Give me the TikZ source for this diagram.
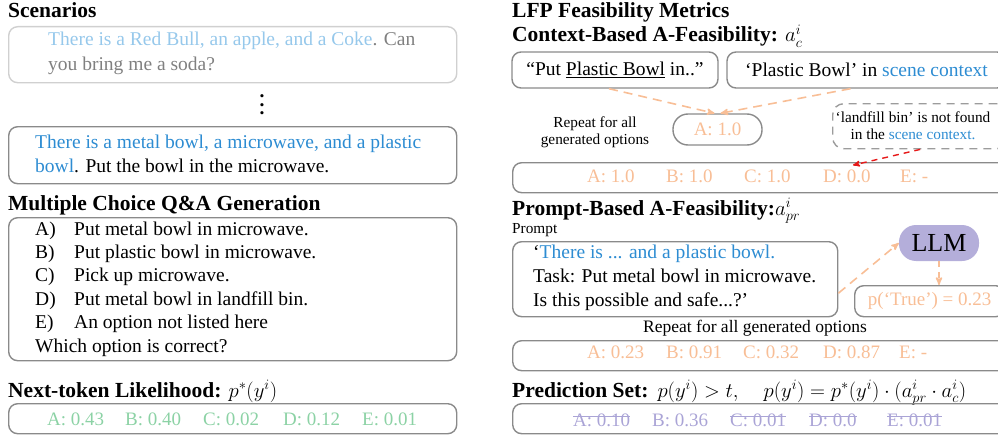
\documentclass[tikz,border=0pt]{standalone}
\usepackage{fontspec}
\setmainfont{Liberation Serif}
\usepackage{tikz}
\usetikzlibrary{arrows,positioning,calc}

\definecolor{boxgray}{RGB}{138,138,138}
\definecolor{faintgray}{RGB}{208,208,208}
\definecolor{fadetext}{RGB}{128,128,128}
\definecolor{fadeblue}{RGB}{150,200,235}
\definecolor{sceneblue}{RGB}{45,140,210}
\definecolor{likegreen}{RGB}{140,210,165}
\definecolor{feasorange}{RGB}{248,190,150}
\definecolor{llmpurple}{RGB}{180,174,218}
\definecolor{setpurple}{RGB}{170,164,214}
\definecolor{alertred}{RGB}{230,25,25}

\newcommand{\fighead}{\fontsize{21.5}{26}\selectfont\bfseries}
\newcommand{\figbody}{\fontsize{19.5}{24.2}\selectfont}
\newcommand{\figval}{\fontsize{19}{23}\selectfont}
\newcommand{\fignote}{\fontsize{15.3}{17.5}\selectfont}
\newcommand{\figllm}{\fontsize{26}{30}\selectfont}
% struck-out value
\newcommand{\strk}[1]{\setbox0\hbox{#1}\rlap{\rule[0.45em]{\wd0}{0.07em}}\box0}

\begin{document}
\begin{tikzpicture}[>=stealth', x=1pt, y=-1pt,
  box/.style={draw=boxgray, line width=1.4pt, rounded corners=9pt, inner sep=0pt, anchor=north west},
  txt/.style={inner sep=0pt, anchor=base west, font=\figbody},
  head/.style={inner sep=0pt, anchor=base west, font=\fighead},
  note/.style={inner sep=0pt, anchor=base, font=\fignote},
  feasarrow/.style={->, draw=feasorange, line width=1.6pt, dash pattern=on 9pt off 6pt}]
	\useasboundingbox (0,0) rectangle (998,436);

	% left: scenarios and question generation
	\node[head] (scenarios) at (8,18) {Scenarios};
	\node[box, draw=faintgray, minimum width=448pt, minimum height=56pt] (scenA) at (8,26) {};
	\node[txt] (scenAtext) at (48,46) {\begin{tabular}[t]{@{}l@{}}\textcolor{fadeblue}{There is a Red Bull, an apple, and a Coke}\textcolor{fadetext}{. Can}\\ \textcolor{fadetext}{you bring me a soda?}\end{tabular}};
	\node[font=\figbody\bfseries, inner sep=0pt] (dots) at (262,105) {\vbox{\baselineskip=8.5pt\lineskiplimit=0pt\hbox{.}\hbox{.}\hbox{.}}};
	\node[box, minimum width=448pt, minimum height=57pt] (scenB) at (8,126) {};
	\node[txt] (scenBtext) at (35,148) {\begin{tabular}[t]{@{}l@{}}\textcolor{sceneblue}{There is a metal bowl, a microwave, and a plastic}\\ \textcolor{sceneblue}{bowl}. Put the bowl in the microwave.\end{tabular}};

	\node[head] (mcq) at (8,210) {Multiple Choice Q\&A Generation};
	\node[box, minimum width=448pt, minimum height=143pt] (options) at (8,217) {};
	\node[txt, font=\fontsize{19.5}{23.4}\selectfont] (optext) at (35,235) {\begin{tabular}[t]{@{}p{39pt}@{}l@{}}
		A) & Put metal bowl in microwave.\\
		B) & Put plastic bowl in microwave.\\
		C) & Pick up microwave.\\
		D) & Put metal bowl in landfill bin.\\
		E) & An option not listed here\\
		\multicolumn{2}{@{}l@{}}{Which option is correct?}\end{tabular}};

	\node[head] (nexttok) at (8,397) {Next-token Likelihood: $p^*(y^i)$};
	\node[box, minimum width=448pt, minimum height=30pt] (likerow) at (8,403) {};
	\foreach \val/\px [count=\k] in {A: 0.43/47, B: 0.40/125, C: 0.02/203, D: 0.12/283, E: 0.01/362}
		\node[txt, font=\figval, text=likegreen] (like\k) at (\px,425) {\val};

	% right: context-based feasibility
	\node[head] (lfp) at (512,18) {LFP Feasibility Metrics};
	\node[head] (ctxhead) at (512,42) {Context-Based A-Feasibility: $a_c^i$};
	\node[box, anchor=center, minimum width=206pt, minimum height=36pt, font=\figbody] (putbox) at (615,70) {“Put \underline{Plastic Bowl} in..”};
	\node[box, anchor=center, minimum width=279pt, minimum height=36pt, font=\figbody] (scenebox) at (866.5,70) {‘Plastic Bowl’ in \textcolor{sceneblue}{scene context}};
	\node[note] (repeatA) at (595,127) {\begin{tabular}[t]{@{}c@{}}Repeat for all\\ generated options\end{tabular}};
	\node[box, anchor=center, rounded corners=15pt, minimum width=89pt, minimum height=31pt, font=\figval, text=feasorange] (abox) at (717.5,129.5) {A: 1.0};
	\node[box, draw=boxgray!85, dash pattern=on 8pt off 6pt, rounded corners=11pt, minimum width=175pt, minimum height=45pt] (notfound) at (832,103) {};
	\node[note] (notfoundtext) at (913,122) {\begin{tabular}[t]{@{}c@{}}‘landfill bin’ is not found\\ in the \textcolor{sceneblue}{scene context.}\end{tabular}};
	\node[box, minimum width=495pt, minimum height=30pt] (ctxrow) at (512,162) {};
	\foreach \val/\px [count=\k] in {A: 1.0/587, B: 1.0/666, C: 1.0/744, D: 0.0/823, E: -/900}
		\node[txt, font=\figval, text=feasorange] (ctx\k) at (\px,182) {\val};

	\draw[feasarrow] ([xshift=-6pt]putbox.south) -- ([xshift=-3pt]abox.north);
	\draw[feasarrow] ([xshift=-16pt]scenebox.south) -- ([xshift=3pt]abox.north);
	\draw[->, alertred, line width=1.4pt, dash pattern=on 6pt off 5pt] (notfound.south) -- ([xshift=6pt,yshift=4pt]ctx4.north);

	% right: prompt-based feasibility
	\node[head] (prhead) at (512,215) {Prompt-Based A-Feasibility:$a_{pr}^i$};
	\node[inner sep=0pt, anchor=base west, font=\fignote] (promptlabel) at (512,233) {Prompt};
	\node[box, minimum width=325pt, minimum height=75pt] (prompt) at (512,241) {};
	\node[txt] (prompttext) at (533,258) {\begin{tabular}[t]{@{}l@{}}‘\textcolor{sceneblue}{There is ... and a plastic bowl.}\\ Task: Put metal bowl in microwave.\\ Is this possible and safe...?’\end{tabular}};
	\node[fill=llmpurple, rounded corners=17pt, minimum width=80pt, minimum height=36pt, inner sep=0pt, font=\figllm] (llm) at (939,243) {LLM};
	\node[box, minimum width=150pt, minimum height=31pt, font=\figval, text=feasorange] (ptrue) at (854,285) {p(‘True’) = 0.23};
	\draw[feasarrow] ([yshift=-14pt]prompt.east) -- (llm.west);
	\draw[feasarrow, dash pattern=on 6pt off 5pt] (llm.south) -- (llm.south |- ptrue.north);

	\node[note, font=\fontsize{17.5}{20}\selectfont] (repeatB) at (755,332) {Repeat for all generated options};
	\node[box, minimum width=495pt, minimum height=30pt] (prrow) at (512,340) {};
	\foreach \val/\px [count=\k] in {A: 0.23/587, B: 0.91/666, C: 0.32/743, D: 0.87/823, E: -/899}
		\node[txt, font=\figval, text=feasorange] (pr\k) at (\px,358) {\val};

	% prediction set
	\node[head] (predhead) at (512,397) {Prediction Set:\hspace{9pt}$p(y^i) > t,\quad p(y^i) = p^*(y^i)\cdot(a_{pr}^i\cdot a_c^i)$};
	\node[box, minimum width=495pt, minimum height=30pt] (predrow) at (512,403) {};
	\foreach \val/\px [count=\k] in {\strk{A: 0.10}/573, B: 0.36/652, \strk{C: 0.01}/730, \strk{D: 0.0}/809, \strk{E: 0.01}/887}
		\node[txt, font=\figval, text=setpurple] (pred\k) at (\px,426) {\val};
\end{tikzpicture}
\end{document}
